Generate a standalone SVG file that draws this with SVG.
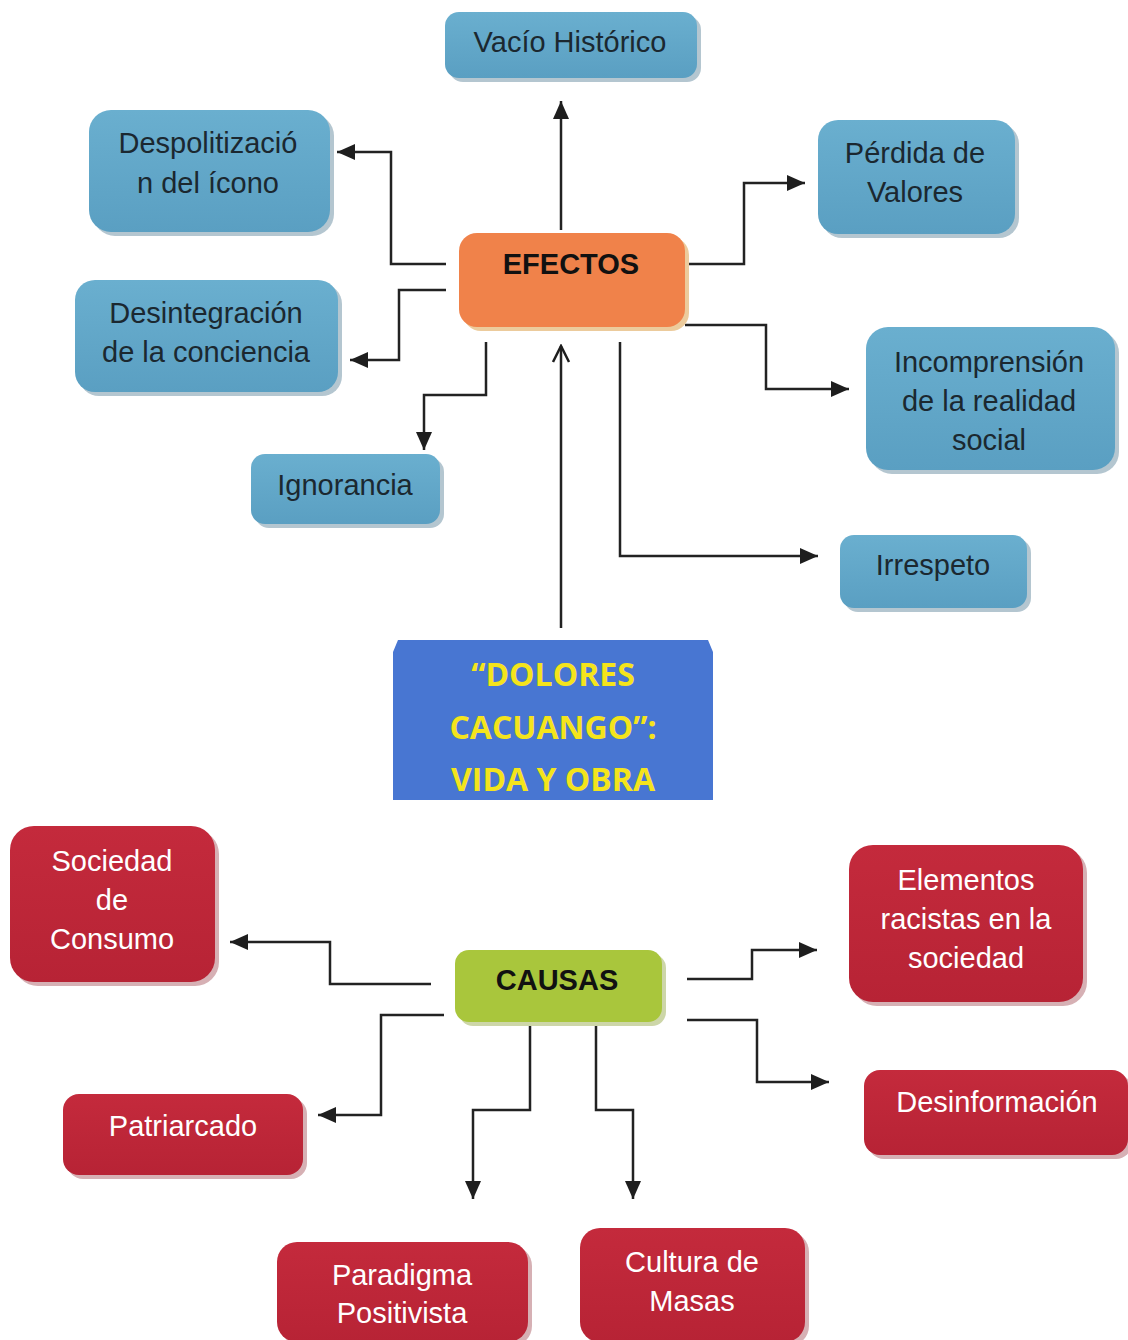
<svg xmlns="http://www.w3.org/2000/svg" width="1128" height="1340" viewBox="0 0 1128 1340">
<defs>
<marker id="ah" markerUnits="userSpaceOnUse" markerWidth="22" markerHeight="22" viewBox="0 0 22 22" refX="20" refY="11" orient="auto">
<path d="M2,3 L20,11 L2,19 Z" fill="#1e1e1e"/>
</marker>
<marker id="open" markerUnits="userSpaceOnUse" markerWidth="22" markerHeight="22" viewBox="0 0 22 22" refX="20" refY="11" orient="auto">
<path d="M4,3 L20,11 L4,19" fill="none" stroke="#1e1e1e" stroke-width="2.5"/>
</marker>
<linearGradient id="gb" x1="0" y1="0" x2="0" y2="1"><stop offset="0" stop-color="#6aafcf"/><stop offset="1" stop-color="#5a9fc2"/></linearGradient>
<linearGradient id="gr" x1="0" y1="0" x2="0" y2="1"><stop offset="0" stop-color="#c42a3c"/><stop offset="1" stop-color="#b72335"/></linearGradient>
</defs>
<style>
.conn path{fill:none;stroke:#222;stroke-width:2.5}
.bs{fill:#b4c6d0}
.b{fill:url(#gb)}
.rs{fill:#d6b0b4}
.r{fill:url(#gr)}
.tb{font-family:"Liberation Sans",Arial,sans-serif;font-size:29px;fill:#1b2830;text-anchor:middle}
.tr{font-family:"Liberation Sans",Arial,sans-serif;font-size:29px;fill:#ffffff;text-anchor:middle}
.th{font-family:"Liberation Sans",Arial,sans-serif;font-size:29px;font-weight:bold;fill:#111;text-anchor:middle}
.tt{font-family:"Open Sans",Lato,sans-serif;font-size:32px;font-weight:bold;fill:#f4e41c;text-anchor:middle}
</style>
<rect width="1128" height="1340" fill="#ffffff"/>

<g id="conns" class="conn">
<path d="M561,230 V101" marker-end="url(#ah)"/>
<path d="M446,264 H391 V152 H337" marker-end="url(#ah)"/>
<path d="M446,290 H399 V360 H350" marker-end="url(#ah)"/>
<path d="M486,342 V395 H424 V450" marker-end="url(#ah)"/>
<path d="M685,264 H744 V183 H805" marker-end="url(#ah)"/>
<path d="M685,325 H766 V389 H849" marker-end="url(#ah)"/>
<path d="M620,342 V556 H818" marker-end="url(#ah)"/>
<path d="M561,628 V346" marker-end="url(#open)"/>
<path d="M431,984 H330 V942 H230" marker-end="url(#ah)"/>
<path d="M444,1015 H381 V1115 H318" marker-end="url(#ah)"/>
<path d="M530,1020 V1110 H473 V1199" marker-end="url(#ah)"/>
<path d="M596,1020 V1110 H633 V1199" marker-end="url(#ah)"/>
<path d="M687,979 H752 V950 H817" marker-end="url(#ah)"/>
<path d="M687,1020 H757 V1082 H829" marker-end="url(#ah)"/>
</g>

<g id="vacio">
<rect class="bs" x="449" y="16" width="252" height="66" rx="14"/>
<rect class="b" x="445" y="12" width="252" height="66" rx="14"/>
<text class="tb" x="570" y="52">Vacío Histórico</text>
</g>
<g id="despolitizacion">
<rect class="bs" x="93" y="114" width="241" height="122" rx="22"/>
<rect class="b" x="89" y="110" width="241" height="122" rx="22"/>
<text class="tb" x="208" y="153">Despolitizació</text>
<text class="tb" x="208" y="193">n del ícono</text>
</g>
<g id="perdida">
<rect class="bs" x="822" y="124" width="197" height="114" rx="20"/>
<rect class="b" x="818" y="120" width="197" height="114" rx="20"/>
<text class="tb" x="915" y="163">Pérdida de</text>
<text class="tb" x="915" y="202">Valores</text>
</g>
<g id="desintegracion">
<rect class="bs" x="79" y="284" width="263" height="112" rx="20"/>
<rect class="b" x="75" y="280" width="263" height="112" rx="20"/>
<text class="tb" x="206" y="323">Desintegración</text>
<text class="tb" x="206" y="362">de la conciencia</text>
</g>
<g id="incomprension">
<rect class="bs" x="870" y="331" width="249" height="143" rx="22"/>
<rect class="b" x="866" y="327" width="249" height="143" rx="22"/>
<text class="tb" x="989" y="372">Incomprensión</text>
<text class="tb" x="989" y="411">de la realidad</text>
<text class="tb" x="989" y="450">social</text>
</g>
<g id="ignorancia">
<rect class="bs" x="255" y="458" width="189" height="70" rx="14"/>
<rect class="b" x="251" y="454" width="189" height="70" rx="14"/>
<text class="tb" x="345" y="495">Ignorancia</text>
</g>
<g id="irrespeto">
<rect class="bs" x="844" y="539" width="187" height="73" rx="14"/>
<rect class="b" x="840" y="535" width="187" height="73" rx="14"/>
<text class="tb" x="933" y="575">Irrespeto</text>
</g>
<g id="efectos">
<rect x="463" y="237" width="226" height="94" rx="18" fill="#eccb9c"/>
<rect x="459" y="233" width="226" height="94" rx="18" fill="#f0824a"/>
<text class="th" x="571" y="274">EFECTOS</text>
</g>
<g id="titulo">
<path d="M393,652 L398,640 H708 L713,652 V800 H393 Z" fill="#4876d2"/>
<text class="tt" x="553" y="686">“DOLORES</text>
<text class="tt" x="553" y="739">CACUANGO”:</text>
<text class="tt" x="553" y="791">VIDA Y OBRA</text>
</g>
<g id="causas">
<rect x="459" y="954" width="207" height="72" rx="14" fill="#cdd6a8"/>
<rect x="455" y="950" width="207" height="72" rx="14" fill="#a9c63c"/>
<text class="th" x="557" y="990">CAUSAS</text>
</g>
<g id="sociedad">
<rect class="rs" x="14" y="830" width="205" height="156" rx="24"/>
<rect class="r" x="10" y="826" width="205" height="156" rx="24"/>
<text class="tr" x="112" y="871">Sociedad</text>
<text class="tr" x="112" y="910">de</text>
<text class="tr" x="112" y="949">Consumo</text>
</g>
<g id="elementos">
<rect class="rs" x="853" y="849" width="234" height="157" rx="24"/>
<rect class="r" x="849" y="845" width="234" height="157" rx="24"/>
<text class="tr" x="966" y="890">Elementos</text>
<text class="tr" x="966" y="929">racistas en la</text>
<text class="tr" x="966" y="968">sociedad</text>
</g>
<g id="patriarcado">
<rect class="rs" x="67" y="1098" width="240" height="81" rx="16"/>
<rect class="r" x="63" y="1094" width="240" height="81" rx="16"/>
<text class="tr" x="183" y="1136">Patriarcado</text>
</g>
<g id="desinformacion">
<rect class="rs" x="868" y="1074" width="264" height="85" rx="16"/>
<rect class="r" x="864" y="1070" width="264" height="85" rx="16"/>
<text class="tr" x="997" y="1112">Desinformación</text>
</g>
<g id="paradigma">
<rect class="rs" x="281" y="1246" width="251" height="100" rx="20"/>
<rect class="r" x="277" y="1242" width="251" height="100" rx="20"/>
<text class="tr" x="402" y="1285">Paradigma</text>
<text class="tr" x="402" y="1323">Positivista</text>
</g>
<g id="cultura">
<rect class="rs" x="584" y="1232" width="225" height="114" rx="20"/>
<rect class="r" x="580" y="1228" width="225" height="114" rx="20"/>
<text class="tr" x="692" y="1272">Cultura de</text>
<text class="tr" x="692" y="1311">Masas</text>
</g>
</svg>
